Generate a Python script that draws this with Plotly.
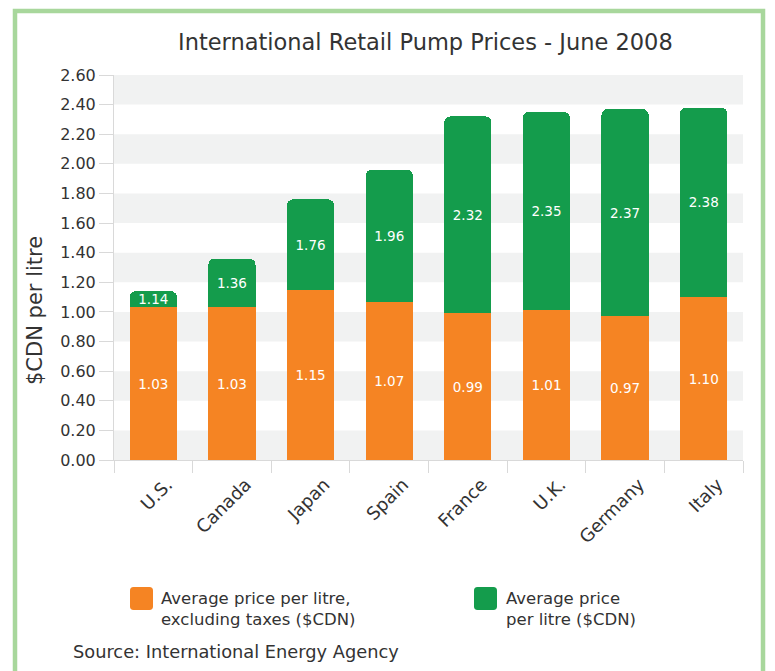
import re
import plotly.graph_objects as go

countries = ["U.S.", "Canada", "Japan", "Spain", "France", "U.K.", "Germany", "Italy"]
pre_tax = [1.03, 1.03, 1.15, 1.07, 0.99, 1.01, 0.97, 1.10]
total = [1.14, 1.36, 1.76, 1.96, 2.32, 2.35, 2.37, 2.38]
y_ticks = [0.0, 0.2, 0.4, 0.6, 0.8, 1.0, 1.2, 1.4, 1.6, 1.8, 2.0, 2.2, 2.4, 2.6]

ORANGE = "#f58423"
GREEN = "#149c4c"
FONT = "DejaVu Sans, Verdana, sans-serif"
TXT = "#333333"

OFF = 8  # page body margin
W, H = 775 - OFF, 671 - OFF
# plot area in screen pixels: x 114..743, y 75..460
L, T = 114 - OFF, 75 - OFF
R, B = W - (743 - OFF), H - (460 - OFF)
PW, PH = W - L - R, H - T - B

def px(x):
    return (x - OFF - L) / PW

def py(y):
    return (H - B - (y - OFF)) / PH

tax_part = [round(t - p, 2) for t, p in zip(total, pre_tax)]

fig = go.Figure()
fig.add_trace(go.Bar(
    x=countries, y=pre_tax, name="Average price per litre, excluding taxes ($CDN)",
    marker=dict(color=ORANGE, line=dict(width=0)),
    text=[f"{v:.2f}" for v in pre_tax], textposition="inside", insidetextanchor="middle",
    textfont=dict(color="white", size=13.5, family=FONT), textangle=0, constraintext="none",
))
fig.add_trace(go.Bar(
    x=countries, y=tax_part, name="Average price per litre ($CDN)",
    marker=dict(color=GREEN, line=dict(width=0)),
    text=[f"{v:.2f}" for v in total], textposition="inside", insidetextanchor="middle",
    textfont=dict(color="white", size=13.5, family=FONT), textangle=0, constraintext="none",
))

shapes = []
for i in range(0, len(y_ticks) - 1, 2):
    shapes.append(dict(type="rect", xref="paper", yref="y", x0=0, x1=1,
                       y0=y_ticks[i], y1=y_ticks[i + 1],
                       fillcolor="#f1f2f2", line=dict(width=0), layer="below"))
shapes.append(dict(type="rect", xref="paper", yref="paper",
                   x0=px(15), x1=px(763), y0=py(700), y1=py(11),
                   line=dict(color="#a8d79c", width=4.5), fillcolor="rgba(0,0,0,0)", layer="above"))

def rounded_rect(x0, y0, x1, y1, r, color):
    path = (f"M {x0 + r},{y0} L {x1 - r},{y0} Q {x1},{y0} {x1},{y0 + r} "
            f"L {x1},{y1 - r} Q {x1},{y1} {x1 - r},{y1} L {x0 + r},{y1} "
            f"Q {x0},{y1} {x0},{y1 - r} L {x0},{y0 + r} Q {x0},{y0} {x0 + r},{y0} Z")
    out = []
    for tk in re.split(r"(\s+)", path):
        if "," in tk:
            a, b = tk.split(",")
            out.append(f"{px(float(a)):.5f},{py(float(b)):.5f}")
        else:
            out.append(tk)
    return dict(type="path", xref="paper", yref="paper", path="".join(out),
                fillcolor=color, line=dict(width=0))

shapes.append(rounded_rect(130, 587, 153, 610, 3.5, ORANGE))
shapes.append(rounded_rect(474, 587, 497, 610, 3.5, GREEN))

annotations = [
    dict(text="International Retail Pump Prices - June 2008", x=px(425), y=py(42),
         xref="paper", yref="paper", showarrow=False, xanchor="center", yanchor="middle",
         font=dict(size=22.5, color=TXT, family=FONT)),
    dict(text="$CDN per litre", x=px(35), y=py(311), xref="paper", yref="paper",
         showarrow=False, textangle=-90, xanchor="center", yanchor="middle",
         font=dict(size=21, color=TXT, family=FONT)),
    dict(text="Average price per litre,<br>excluding taxes ($CDN)", x=px(159), y=py(609),
         xref="paper", yref="paper", showarrow=False, xanchor="left", yanchor="middle",
         align="left", font=dict(size=16.5, color=TXT, family=FONT)),
    dict(text="Average price<br>per litre ($CDN)", x=px(504), y=py(609),
         xref="paper", yref="paper", showarrow=False, xanchor="left", yanchor="middle",
         align="left", font=dict(size=16.5, color=TXT, family=FONT)),
    dict(text="Source: International Energy Agency", x=px(71), y=py(651),
         xref="paper", yref="paper", showarrow=False, xanchor="left", yanchor="middle",
         font=dict(size=17.8, color=TXT, family=FONT)),
]

fig.update_layout(
    width=W, height=H,
    margin=dict(l=L, r=R, t=T, b=B, autoexpand=False),
    barmode="stack", bargap=0.4, barcornerradius=6,
    plot_bgcolor="white", paper_bgcolor="white",
    showlegend=False,
    shapes=shapes, annotations=annotations,
    font=dict(family=FONT, color=TXT),
    uniformtext=dict(minsize=13.5, mode="show"),
)
fig.update_xaxes(
    tickangle=-45, tickfont=dict(size=18, color=TXT, family=FONT),
    ticklabelshift=14, ticklabelstandoff=6,
    showline=True, linecolor="#d9d9d9", linewidth=1,
    ticks="outside", tickson="boundaries", ticklen=12, tickcolor="#d9d9d9",
    showgrid=False,
)
fig.update_yaxes(
    range=[0, 2.6], tickvals=y_ticks, ticktext=[f"{v:.2f}" for v in y_ticks],
    tickfont=dict(size=16, color=TXT, family=FONT),
    showline=True, linecolor="#d9d9d9", linewidth=1,
    ticks="outside", ticklen=14, tickcolor="#d9d9d9",
    showgrid=False, zeroline=False,
)

fig.write_html("out.html")
